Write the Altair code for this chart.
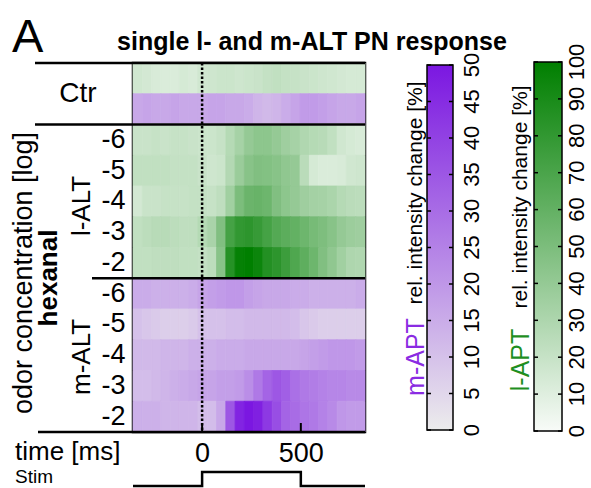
import altair as alt
import pandas as pd

FONT = "Liberation Sans"

# ---- time bins (ms) -------------------------------------------------------
bin_start = [-350, -303, -256, -209, -162, -115, -68, -21, 26, 73, 120, 167, 214,
             261, 308, 355, 402, 449, 496, 543, 590, 637, 684, 731, 778]
bin_w = 47
t_min, t_max = -350, 825

# ---- rel. intensity change [%] per row ------------------------------------
ctr_lapt = [16, 15, 13, 12, 12, 14, 13, 16, 17, 18, 18, 17, 18, 19, 21, 22, 21, 20, 19, 18, 17, 16, 15, 14, 14]
ctr_mapt = [16, 17, 16, 16, 17, 16, 16, 16, 17, 17, 16, 16, 15, 13, 12, 13, 15, 17, 19, 19, 18, 17, 16, 16, 17]

lalt_m6 = [19, 19, 20, 19, 20, 20, 19, 18, 18, 20, 27, 33, 40, 43, 43, 40, 36, 33, 29, 27, 26, 22, 16, 14, 13]
lalt_m5 = [22, 22, 22, 22, 21, 21, 21, 19, 17, 18, 28, 38, 45, 48, 47, 45, 42, 40, 25, 14, 12, 12, 13, 16, 17]
lalt_m4 = [15, 19, 19, 20, 20, 20, 21, 21, 20, 23, 35, 50, 57, 58, 56, 48, 43, 40, 36, 34, 33, 31, 27, 25, 24]
lalt_m3 = [22, 24, 26, 26, 24, 23, 23, 27, 32, 48, 72, 80, 82, 78, 72, 66, 63, 60, 56, 52, 49, 45, 40, 37, 36]
lalt_m2 = [22, 22, 23, 23, 23, 22, 22, 21, 24, 45, 85, 98, 100, 95, 86, 82, 76, 68, 62, 56, 48, 42, 35, 30, 29]

malt_m6 = [15, 15, 14, 14, 14, 14, 15, 17, 18, 19, 20, 20, 18, 17, 16, 16, 16, 15, 15, 14, 14, 14, 14, 14, 15]
malt_m5 = [10, 9, 8, 7, 7, 7, 8, 10, 10, 10, 11, 11, 12, 12, 12, 12, 12, 11, 9, 8, 7, 7, 7, 7, 7]
malt_m4 = [12, 12, 12, 13, 13, 13, 14, 14, 14, 15, 15, 15, 16, 16, 16, 16, 16, 16, 17, 18, 19, 20, 20, 20, 19]
malt_m3 = [11, 11, 12, 13, 14, 15, 16, 17, 17, 18, 18, 19, 22, 27, 32, 35, 33, 29, 27, 26, 25, 24, 24, 23, 23]
malt_m2 = [14, 14, 14, 13, 13, 13, 13, 11, 11, 16, 35, 47, 50, 48, 42, 37, 32, 30, 28, 27, 25, 23, 20, 19, 19]

row_order = ["Ctr:g", "Ctr:p", "l:-6", "l:-5", "l:-4", "l:-3", "l:-2",
             "m:-6", "m:-5", "m:-4", "m:-3", "m:-2"]

stim_t = [-350, 0, 0, 500, 500, 825]
stim_s = [0, 0, 1, 1, 0, 0]

mapt_ticks = [0, 5, 10, 15, 20, 25, 30, 35, 40, 45, 50]
lapt_ticks = [0, 10, 20, 30, 40, 50, 60, 70, 80, 90, 100]

# ---- build long table ------------------------------------------------------
rows = [("Ctr:g", ctr_lapt, "g"), ("Ctr:p", ctr_mapt, "p"),
        ("l:-6", lalt_m6, "g"), ("l:-5", lalt_m5, "g"), ("l:-4", lalt_m4, "g"),
        ("l:-3", lalt_m3, "g"), ("l:-2", lalt_m2, "g"),
        ("m:-6", malt_m6, "p"), ("m:-5", malt_m5, "p"), ("m:-4", malt_m4, "p"),
        ("m:-3", malt_m3, "p"), ("m:-2", malt_m2, "p")]
recs = []
for key, vals, kind in rows:
    for s, v in zip(bin_start, vals):
        recs.append(dict(row=key, t0=s, t1=s + bin_w, v=v, kind=kind))
df = pd.DataFrame(recs)

W, H = 232, 369
G0, G1 = "#f8fbf8", "#007f00"
P0, P1 = "#ececec", "#7b17e1"

xscale = alt.Scale(domain=[t_min, t_max], nice=False, zero=False)
xaxis = alt.Axis(values=[0, 500], title=None, ticks=False, domain=False, grid=False,
                 labelFontSize=27, labelPadding=8, labelFont=FONT, labelColor="black",
                 format="d")
yscale = alt.Scale(domain=row_order, paddingInner=0, paddingOuter=0)
yaxis = alt.Axis(title=None, ticks=False, domain=False, grid=False, labelFontSize=27,
                 labelPadding=8, labelFont=FONT, labelColor="black", labelOverlap=False,
                 labelExpr="indexof(datum.value,'Ctr')==0 ? '' : slice(datum.value, 2)")

gscale = alt.Scale(domain=[0, 100], range=[G0, G1], interpolate="rgb")
pscale_c = alt.Scale(domain=[0, 50], range=[P0, P1], interpolate="rgb")

green = alt.Chart(df[df.kind == "g"]).mark_rect(strokeWidth=0.8).encode(
    x=alt.X("t0:Q", scale=xscale, axis=xaxis), x2="t1:Q",
    y=alt.Y("row:N", scale=yscale, axis=yaxis),
    fill=alt.Fill("v:Q", scale=gscale, legend=None),
    stroke=alt.Stroke("v:Q", scale=gscale, legend=None),
)
purple = alt.Chart(df[df.kind == "p"]).mark_rect(strokeWidth=0.8).encode(
    x=alt.X("t0:Q", scale=xscale, axis=xaxis), x2="t1:Q",
    y=alt.Y("row:N", scale=yscale, axis=None),
    fill=alt.Fill("v:Q", scale=pscale_c, legend=None),
    stroke=alt.Stroke("v:Q", scale=pscale_c, legend=None),
)

one = pd.DataFrame({"d": [0]})


def hline(y, x0, x1, color="black", sw=2.5):
    return alt.Chart(one).mark_rule(color=color, strokeWidth=sw).encode(
        x=alt.value(x0), x2=alt.value(x1), y=alt.value(y))


def label(txt, x, y, size, angle=0, bold=False, color="black", align="center",
          baseline="middle"):
    kw = dict(fontSize=size, font=FONT, color=color, align=align, baseline=baseline,
              fontWeight="bold" if bold else "normal")
    if angle:
        kw["angle"] = angle
    return alt.Chart(pd.DataFrame({"t": [txt]})).mark_text(**kw).encode(
        x=alt.value(x), y=alt.value(y), text="t:N")


sep = hline(H * 2 / 12, 0, W, color="white", sw=2)
lines = [hline(0, -98, W), hline(H * 2 / 12, -98, W), hline(H * 7 / 12, -41, W),
         hline(H, -95, W)]

zero_line = alt.Chart(pd.DataFrame({"t": [0]})).mark_rule(
    color="black", strokeWidth=2.5, strokeDash=[2.5, 2]).encode(
    x=alt.X("t:Q", scale=xscale, axis=xaxis), y=alt.value(0), y2=alt.value(H))

bticks = alt.Chart(pd.DataFrame({"t": [0, 500]})).mark_rule(
    color="black", strokeWidth=2).encode(
    x=alt.X("t:Q", scale=xscale, axis=xaxis), y=alt.value(H - 9), y2=alt.value(H))

stim = alt.Chart(pd.DataFrame({"t": stim_t, "s": stim_s, "i": list(range(len(stim_t)))})).mark_line(
    color="black", strokeWidth=2.5).encode(
    x=alt.X("t:Q", scale=xscale, axis=xaxis),
    y=alt.Y("s:Q", scale=alt.Scale(domain=[0, 1], range=[423, 409]), axis=None),
    order=alt.Order("i:Q"))


def colorbar(ticks, vmax, c0, c1, xl, xr, rng, xlab):
    sc = alt.Scale(domain=[0, vmax], range=rng)
    grad = {"gradient": "linear", "x1": 0, "y1": 1, "x2": 0, "y2": 0,
            "stops": [{"offset": 0, "color": c0}, {"offset": 1, "color": c1}]}
    bar = alt.Chart(pd.DataFrame({"lo": [0], "hi": [vmax]})).mark_rect(
        fill=grad, stroke="black", strokeWidth=1.5).encode(
        x=alt.value(xl), x2=alt.value(xr),
        y=alt.Y("lo:Q", scale=sc, axis=None), y2="hi:Q")
    tdf = pd.DataFrame({"v": ticks})
    tl = alt.Chart(tdf).mark_rule(color="black", strokeWidth=1.5).encode(
        x=alt.value(xl), x2=alt.value(xl + 4), y=alt.Y("v:Q", scale=sc, axis=None))
    tr = alt.Chart(tdf).mark_rule(color="black", strokeWidth=1.5).encode(
        x=alt.value(xr - 4), x2=alt.value(xr), y=alt.Y("v:Q", scale=sc, axis=None))
    lab = alt.Chart(tdf).mark_text(angle=270, fontSize=22, font=FONT, color="black",
                                   align="center", baseline="middle").encode(
        x=alt.value(xlab), y=alt.Y("v:Q", scale=sc, axis=None), text=alt.Text("v:Q", format="d"))
    return [bar, tl, tr, lab]


pbar = colorbar(mapt_ticks, 50, P0, P1, 294, 320, [367, 2], 339)
gbar = colorbar(lapt_ticks, 100, G0, G1, 401, 429, [368, -1], 444)

texts = [
    label("A", -121, -11, 47, align="left", baseline="alphabetic"),
    label("single l- and m-ALT PN response", 179, -13, 25, bold=True, baseline="alphabetic"),
    label("Ctr", -55, 31, 28),
    label("odor concentration [log]", -109, 210, 27, angle=270),
    label("hexanal", -84, 215, 26, angle=270, bold=True),
    label("l-ALT", -51, 143, 26, angle=270),
    label("m-ALT", -51, 294, 26, angle=270),
    label("time [ms]", -118, 397, 26, align="left", baseline="alphabetic"),
    label("Stim", -118, 420, 19, align="left", baseline="alphabetic"),
    label("rel. intensity change [%]", 283, 130, 21, angle=270),
    label("m-APT", 283, 294, 25, angle=270, color="#8a2be2"),
    label("rel. intensity change [%]", 388, 134, 21, angle=270),
    label("l-APT", 388, 297, 25, angle=270, color="#1f8f1f"),
]

chart = alt.layer(
    green, purple, sep, zero_line, bticks, *lines, stim, *pbar, *gbar, *texts
).resolve_scale(
    y="independent", fill="independent", stroke="independent"
).properties(
    width=W, height=H,
    autosize=alt.AutoSizeParams(type="none"),
    padding={"left": 133, "top": 63, "right": 226, "bottom": 56},
    background="white",
).configure_view(stroke="black", strokeWidth=2.5)

chart.save("out.html", embed_options={"renderer": "svg", "actions": False})
